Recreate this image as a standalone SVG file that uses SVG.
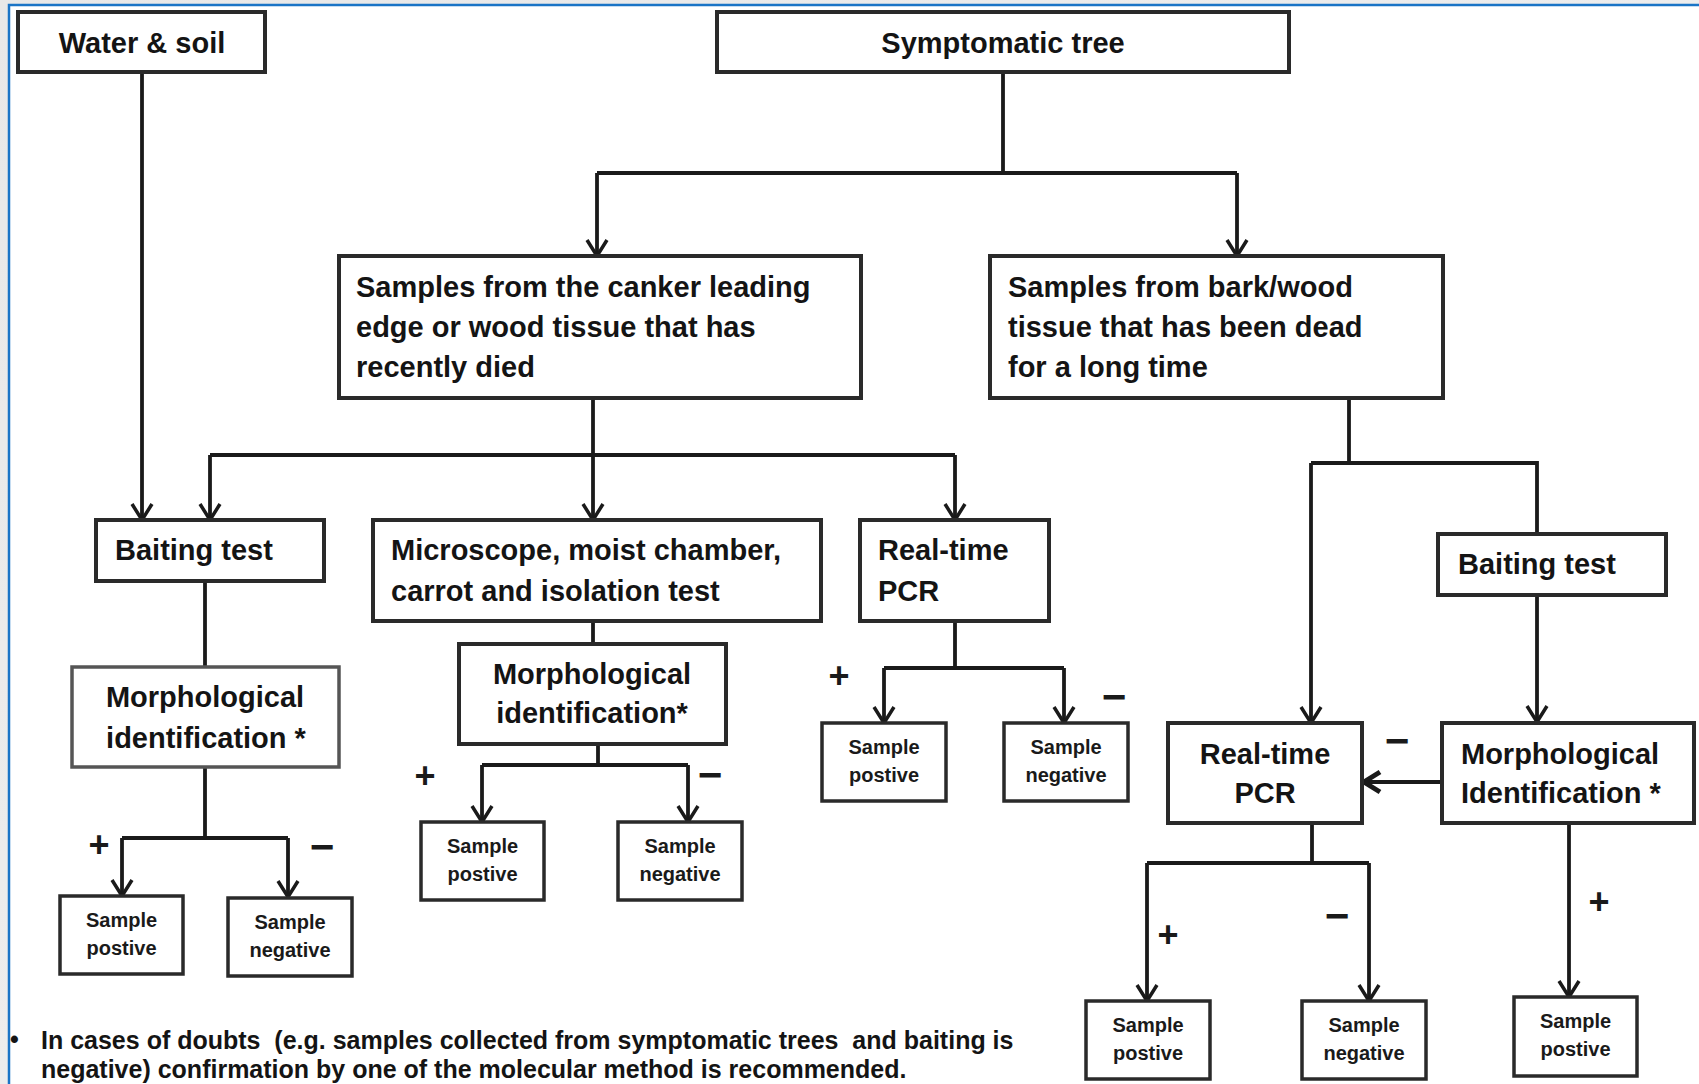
<svg xmlns="http://www.w3.org/2000/svg" width="1699" height="1084" viewBox="0 0 1699 1084">
  <defs>
    <linearGradient id="bg" x1="0" y1="0" x2="1" y2="1">
      <stop offset="0" stop-color="#e8e8e8"/>
      <stop offset="1" stop-color="#f2f2f2"/>
    </linearGradient>
    <marker id="arr" markerUnits="userSpaceOnUse" markerWidth="26" markerHeight="26" viewBox="0 0 26 26" refX="20" refY="13" orient="auto">
      <path d="M4,3 L20,13 L4,23" fill="none" stroke="#1a1a1a" stroke-width="3.5"/>
    </marker>
    <marker id="arrb" markerUnits="userSpaceOnUse" markerWidth="28" markerHeight="28" viewBox="0 0 28 28" refX="22" refY="14" orient="auto">
      <path d="M6,4 L22,14 L6,24" fill="none" stroke="#1a1a1a" stroke-width="5"/>
    </marker>
  </defs>
  <style>
    .box { fill: #ffffff; stroke: #2a2a2a; stroke-width: 4; }
    .boxl { fill: #ffffff; stroke: #555555; stroke-width: 3.5; }
    .sbox { fill: #ffffff; stroke: #2a2a2a; stroke-width: 3.5; }
    .t { font-family: "Liberation Sans", Arial, sans-serif; font-weight: bold; font-size: 29px; fill: #141414; }
    .c { text-anchor: middle; }
    .s { font-family: "Liberation Sans", Arial, sans-serif; font-weight: bold; font-size: 20px; fill: #1a1a1a; text-anchor: middle; }
    .plus { font-family: "Liberation Sans", Arial, sans-serif; font-weight: bold; font-size: 36px; fill: #1a1a1a; text-anchor: middle; }
    .minus { font-family: "Liberation Sans", Arial, sans-serif; font-weight: bold; font-size: 42px; fill: #1a1a1a; text-anchor: middle; }
    .fn { font-family: "Liberation Sans", Arial, sans-serif; font-weight: bold; font-size: 25px; fill: #141414; }
    .ln { fill: none; stroke: #1a1a1a; stroke-width: 3.8; }
  </style>

  <!-- background frame -->
  <rect x="0" y="0" width="1699" height="1084" fill="url(#bg)"/>
  <rect x="9" y="5" width="1690" height="1079" fill="#ffffff"/>
  <path d="M9,1084 L9,5 L1699,5" fill="none" stroke="#1a74c6" stroke-width="2.5"/>

  <!-- connectors -->
  <g id="connectors">
    <path class="ln" d="M142,72 L142,520" marker-end="url(#arr)"/>
    <path class="ln" d="M1003,72 L1003,173 M597,173 L1237,173"/>
    <path class="ln" d="M597,173 L597,256" marker-end="url(#arr)"/>
    <path class="ln" d="M1237,173 L1237,256" marker-end="url(#arr)"/>
    <path class="ln" d="M593,398 L593,520" marker-end="url(#arr)"/>
    <path class="ln" d="M210,455 L955,455"/>
    <path class="ln" d="M210,455 L210,520" marker-end="url(#arr)"/>
    <path class="ln" d="M955,455 L955,520" marker-end="url(#arr)"/>

    <path class="ln" d="M205,581 L205,667"/>
    <path class="ln" d="M205,767 L205,838 M122,838 L288,838"/>
    <path class="ln" d="M122,838 L122,896" marker-end="url(#arr)"/>
    <path class="ln" d="M288,838 L288,897" marker-end="url(#arr)"/>

    <path class="ln" d="M593,621 L593,644"/>
    <path class="ln" d="M598,744 L598,765 M482,765 L688,765"/>
    <path class="ln" d="M482,765 L482,822" marker-end="url(#arr)"/>
    <path class="ln" d="M688,765 L688,822" marker-end="url(#arr)"/>

    <path class="ln" d="M955,621 L955,668 M884,668 L1064,668"/>
    <path class="ln" d="M884,668 L884,723" marker-end="url(#arr)"/>
    <path class="ln" d="M1064,668 L1064,723" marker-end="url(#arr)"/>

    <path class="ln" d="M1349,398 L1349,463 M1311,463 L1537,463 L1537,534"/>
    <path class="ln" d="M1311,463 L1311,723" marker-end="url(#arr)"/>
    <path class="ln" d="M1537,596 L1537,722" marker-end="url(#arr)"/>
    <path class="ln" d="M1442,782 L1364,782" stroke-width="5.5" marker-end="url(#arrb)"/>

    <path class="ln" d="M1312,823 L1312,863 M1147,863 L1369,863"/>
    <path class="ln" d="M1147,863 L1147,1001" marker-end="url(#arr)"/>
    <path class="ln" d="M1369,863 L1369,1001" marker-end="url(#arr)"/>
    <path class="ln" d="M1569,823 L1569,997" marker-end="url(#arr)"/>
  </g>

  <!-- signs -->
  <g id="signs">
    <text class="plus" x="99" y="857">+</text>
    <text class="minus" x="322" y="861">−</text>
    <text class="plus" x="425" y="788">+</text>
    <text class="minus" x="710" y="789">−</text>
    <text class="plus" x="839" y="688">+</text>
    <text class="minus" x="1114" y="711">−</text>
    <text class="minus" x="1397" y="755">−</text>
    <text class="plus" x="1168" y="947">+</text>
    <text class="minus" x="1337" y="930">−</text>
    <text class="plus" x="1599" y="914">+</text>
  </g>

  <!-- nodes -->
  <g id="water-soil">
    <rect class="box" x="18" y="12" width="247" height="60"/>
    <text class="t c" x="142" y="53">Water &amp; soil</text>
  </g>
  <g id="symptomatic-tree">
    <rect class="box" x="717" y="12" width="572" height="60"/>
    <text class="t c" x="1003" y="53">Symptomatic tree</text>
  </g>
  <g id="canker-samples">
    <rect class="box" x="339" y="256" width="522" height="142"/>
    <text class="t" x="356" y="297">Samples from the canker leading</text>
    <text class="t" x="356" y="337">edge or wood tissue that has</text>
    <text class="t" x="356" y="377">recently died</text>
  </g>
  <g id="bark-samples">
    <rect class="box" x="990" y="256" width="453" height="142"/>
    <text class="t" x="1008" y="297">Samples from bark/wood</text>
    <text class="t" x="1008" y="337">tissue that has been dead</text>
    <text class="t" x="1008" y="377">for a long time</text>
  </g>
  <g id="baiting-left">
    <rect class="box" x="96" y="520" width="228" height="61"/>
    <text class="t" x="115" y="560">Baiting test</text>
  </g>
  <g id="microscope">
    <rect class="box" x="373" y="520" width="448" height="101"/>
    <text class="t" x="391" y="560">Microscope, moist chamber,</text>
    <text class="t" x="391" y="601">carrot and isolation test</text>
  </g>
  <g id="pcr-mid">
    <rect class="box" x="860" y="520" width="189" height="101"/>
    <text class="t" x="878" y="560">Real-time</text>
    <text class="t" x="878" y="601">PCR</text>
  </g>
  <g id="morph-left">
    <rect class="boxl" x="72" y="667" width="267" height="100"/>
    <text class="t c" x="205" y="707">Morphological</text>
    <text class="t c" x="206" y="748">identification *</text>
  </g>
  <g id="morph-mid">
    <rect class="box" x="459" y="644" width="267" height="100"/>
    <text class="t c" x="592" y="684">Morphological</text>
    <text class="t c" x="592" y="723">identification*</text>
  </g>
  <g id="baiting-right">
    <rect class="box" x="1438" y="534" width="228" height="61"/>
    <text class="t" x="1458" y="574">Baiting test</text>
  </g>
  <g id="pcr-right">
    <rect class="box" x="1168" y="723" width="194" height="100"/>
    <text class="t c" x="1265" y="764">Real-time</text>
    <text class="t c" x="1265" y="803">PCR</text>
  </g>
  <g id="morph-right">
    <rect class="box" x="1442" y="723" width="252" height="100"/>
    <text class="t" x="1461" y="764">Morphological</text>
    <text class="t" x="1461" y="803">Identification *</text>
  </g>

  <g id="s1-pos">
    <rect class="sbox" x="60" y="896" width="123" height="78"/>
    <text class="s" x="121.5" y="927">Sample</text>
    <text class="s" x="121.5" y="955">postive</text>
  </g>
  <g id="s2-neg">
    <rect class="sbox" x="228" y="898" width="124" height="78"/>
    <text class="s" x="290" y="929">Sample</text>
    <text class="s" x="290" y="957">negative</text>
  </g>
  <g id="s3-pos">
    <rect class="sbox" x="421" y="822" width="123" height="78"/>
    <text class="s" x="482.5" y="853">Sample</text>
    <text class="s" x="482.5" y="881">postive</text>
  </g>
  <g id="s4-neg">
    <rect class="sbox" x="618" y="822" width="124" height="78"/>
    <text class="s" x="680" y="853">Sample</text>
    <text class="s" x="680" y="881">negative</text>
  </g>
  <g id="s5-pos">
    <rect class="sbox" x="822" y="723" width="124" height="78"/>
    <text class="s" x="884" y="754">Sample</text>
    <text class="s" x="884" y="782">postive</text>
  </g>
  <g id="s6-neg">
    <rect class="sbox" x="1004" y="723" width="124" height="78"/>
    <text class="s" x="1066" y="754">Sample</text>
    <text class="s" x="1066" y="782">negative</text>
  </g>
  <g id="s7-pos">
    <rect class="sbox" x="1086" y="1001" width="124" height="78"/>
    <text class="s" x="1148" y="1032">Sample</text>
    <text class="s" x="1148" y="1060">postive</text>
  </g>
  <g id="s8-neg">
    <rect class="sbox" x="1302" y="1001" width="124" height="78"/>
    <text class="s" x="1364" y="1032">Sample</text>
    <text class="s" x="1364" y="1060">negative</text>
  </g>
  <g id="s9-pos">
    <rect class="sbox" x="1514" y="997" width="123" height="79"/>
    <text class="s" x="1575.5" y="1028">Sample</text>
    <text class="s" x="1575.5" y="1056">postive</text>
  </g>

  <!-- footnote -->
  <g id="footnote">
    <text class="fn" x="10" y="1048" font-size="18">•</text>
    <text class="fn" x="41" y="1049" xml:space="preserve">In cases of doubts  (e.g. samples collected from symptomatic trees  and baiting is</text>
    <text class="fn" x="41" y="1078">negative) confirmation by one of the molecular method is recommended.</text>
  </g>
</svg>
